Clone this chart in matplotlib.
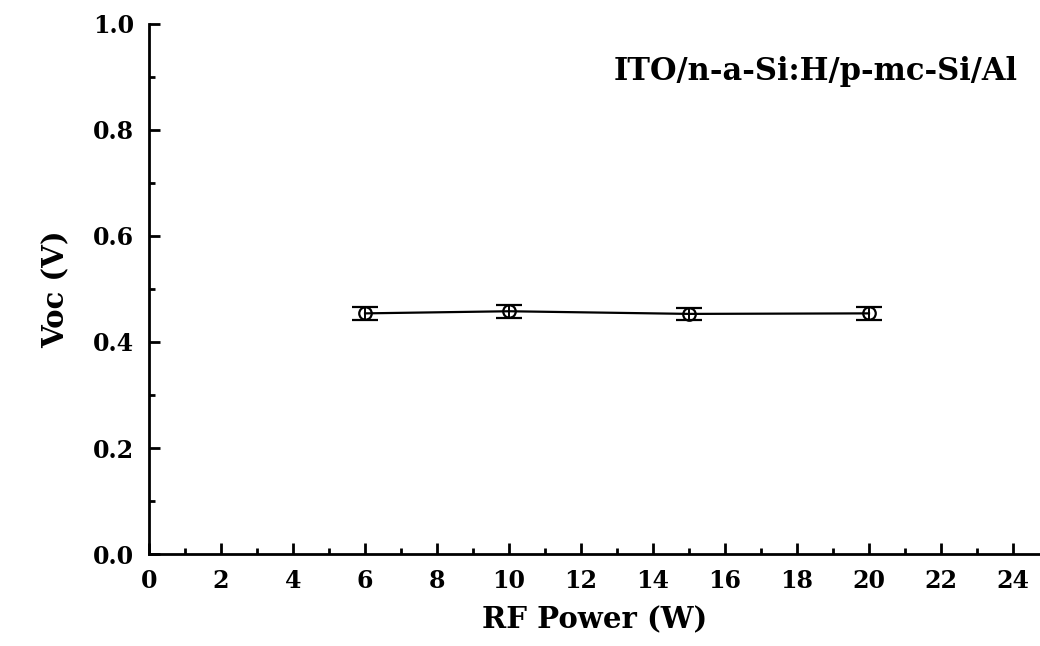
import matplotlib.pyplot as plt
from matplotlib.ticker import MultipleLocator

power = [6, 10, 15, 20]
voc = [0.454, 0.458, 0.453, 0.454]
voc_err = [0.012, 0.012, 0.012, 0.012]
x_ticks = list(range(0, 25, 2))
y_ticks = [0.0, 0.2, 0.4, 0.6, 0.8, 1.0]

fig = plt.figure(figsize=(10.4, 6.46), dpi=100)
ax = fig.add_axes([0.1433, 0.1424, 0.8567, 0.8205])

ax.errorbar(power, voc, yerr=voc_err, color='black', lw=1.6,
            marker='o', ms=9, mfc='none', mec='black', mew=1.6,
            ecolor='black', elinewidth=1.4, capsize=9.5, capthick=3)

ax.set_xlim(0, 24.75)
ax.set_ylim(0, 1.0)
ax.set_xticks(x_ticks)
ax.set_yticks(y_ticks)
ax.xaxis.set_minor_locator(MultipleLocator(1))
ax.yaxis.set_minor_locator(MultipleLocator(0.1))
ax.set_yticklabels(['%.1f' % v for v in y_ticks])

for s in ['top', 'right']:
    ax.spines[s].set_visible(False)
for s in ['left', 'bottom']:
    ax.spines[s].set_linewidth(2)

ax.tick_params(which='major', direction='in', length=8, width=2)
ax.tick_params(which='minor', direction='in', length=4, width=2)
ax.tick_params(axis='y', which='major', pad=11)
ax.tick_params(axis='x', which='major', pad=11)
for lab in ax.get_xticklabels() + ax.get_yticklabels():
    lab.set_fontfamily('DejaVu Serif')
    lab.set_fontweight('bold')
    lab.set_fontsize(17)

ax.set_xlabel('RF Power (W)', family='DejaVu Serif', weight='bold', fontsize=21, labelpad=9)
ax.set_ylabel('Voc (V)', family='DejaVu Serif', weight='bold', fontsize=21, labelpad=16)
ax.text(0.975, 0.91, 'ITO/n-a-Si:H/p-mc-Si/Al', transform=ax.transAxes,
        ha='right', va='center', family='DejaVu Serif', weight='bold', fontsize=22)

fig.savefig('out.png', dpi=100)
